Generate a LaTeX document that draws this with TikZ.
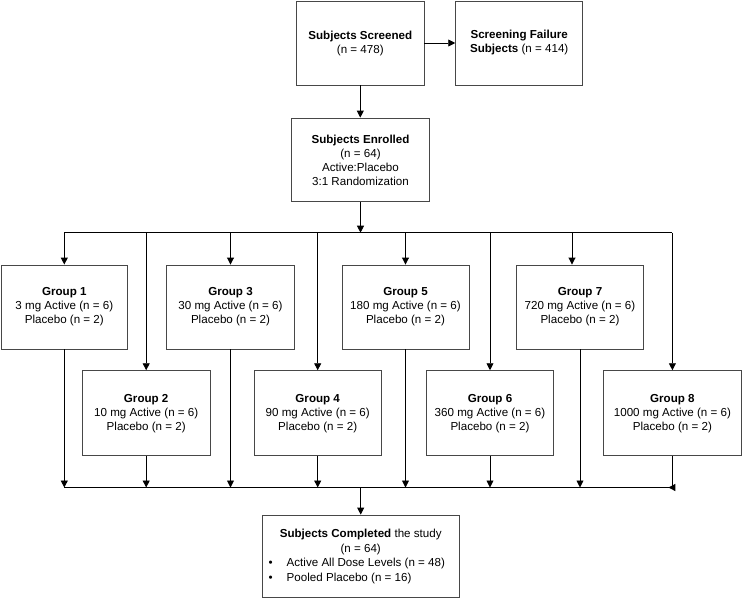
\documentclass[tikz,border=0pt]{standalone}
\usepackage{fontspec}
\setmainfont{Liberation Sans}
\usetikzlibrary{arrows.meta,calc}
\begin{document}
\begin{tikzpicture}[x=1pt,y=-1pt,
  box/.style={draw=black!72, line width=0.9pt, fill=white, align=center, inner sep=0pt, font=\fontsize{11.6}{14}\selectfont},
  plainbox/.style={draw=black!72, line width=0.9pt, fill=white, inner sep=0pt, font=\fontsize{11.6}{14.5}\selectfont},
  arr/.style={draw=black, line width=0.9pt, -{Triangle[length=7pt,width=7pt]}},
  ln/.style={draw=black, line width=0.9pt}]
\useasboundingbox (0,0) rectangle (742,599);
% top boxes
\node[box, minimum width=127.3, minimum height=84] (ss) at (360.3,43) {\textbf{Subjects Screened}\\(n = 478)};
\node[box, minimum width=127, minimum height=84] (sf) at (519.2,43) {\textbf{Screening Failure}\\\textbf{Subjects} (n = 414)};
\node[box, minimum width=137.6, minimum height=83.7] (se) at (360.5,159.9) {\textbf{Subjects Enrolled}\\(n = 64)\\Active:Placebo\\3:1 Randomization};
% groups
\node[box, minimum width=126.7, minimum height=84] (g1) at (64.3,307) {\textbf{Group 1}\\3 mg Active (n = 6)\\Placebo (n = 2)};
\node[box, minimum width=127.6, minimum height=84] (g3) at (230.5,307) {\textbf{Group 3}\\30 mg Active (n = 6)\\Placebo (n = 2)};
\node[box, minimum width=127, minimum height=84] (g5) at (405.5,307) {\textbf{Group 5}\\180 mg Active (n = 6)\\Placebo (n = 2)};
\node[box, minimum width=127.4, minimum height=84] (g7) at (580,307) {\textbf{Group 7}\\720 mg Active (n = 6)\\Placebo (n = 2)};
\node[box, minimum width=127.7, minimum height=85] (g2) at (146.2,413.2) {\textbf{Group 2}\\10 mg Active (n = 6)\\Placebo (n = 2)};
\node[box, minimum width=126.7, minimum height=85] (g4) at (317.7,413.2) {\textbf{Group 4}\\90 mg Active (n = 6)\\Placebo (n = 2)};
\node[box, minimum width=127.4, minimum height=85] (g6) at (490,413.2) {\textbf{Group 6}\\360 mg Active (n = 6)\\Placebo (n = 2)};
\node[box, minimum width=137.3, minimum height=85] (g8) at (672.4,413.2) {\textbf{Group 8}\\1000 mg Active (n = 6)\\Placebo (n = 2)};
% completed
\node[plainbox, minimum width=196.7, minimum height=82.7] (sc) at (360.7,556.4) {\parbox{184pt}{\fontsize{11.6}{14.5}\selectfont\centering\textbf{Subjects Completed} the study\\(n = 64)\par\raggedright\makebox[18pt][l]{\textbullet}Active All Dose Levels (n = 48)\\\makebox[18pt][l]{\textbullet}Pooled Placebo (n = 16)}};
% buses
\coordinate (tb) at (0,232.7);
\coordinate (bb) at (0,487.5);
\coordinate (g7in) at (572,232.7);
% connectors
\draw[arr] (ss.east) -- (sf.west);
\draw[arr] (ss.south) -- (ss.south |- se.north);
\draw[ln] (g1.north |- tb) -- (g8.north |- tb);
\draw[arr] (se.south) -- (se.south |- tb);
\foreach \g in {g1,g2,g3,g4,g5,g6,g8}{
  \draw[arr] (\g.north |- tb) -- (\g.north);
}
\draw[arr] (g7in) -- (g7in |- g7.north);
\draw[ln] (g1.south |- bb) -- (g8.south |- bb);
\foreach \g in {g1,g2,g3,g4,g5,g6,g7}{
  \draw[arr] (\g.south) -- (\g.south |- bb);
}
\draw[arr] (g8.south) |- ($(g8.south |- bb)+(-4,0)$);
\draw[arr] (sc.north |- bb) -- (sc.north);
\end{tikzpicture}
\end{document}
